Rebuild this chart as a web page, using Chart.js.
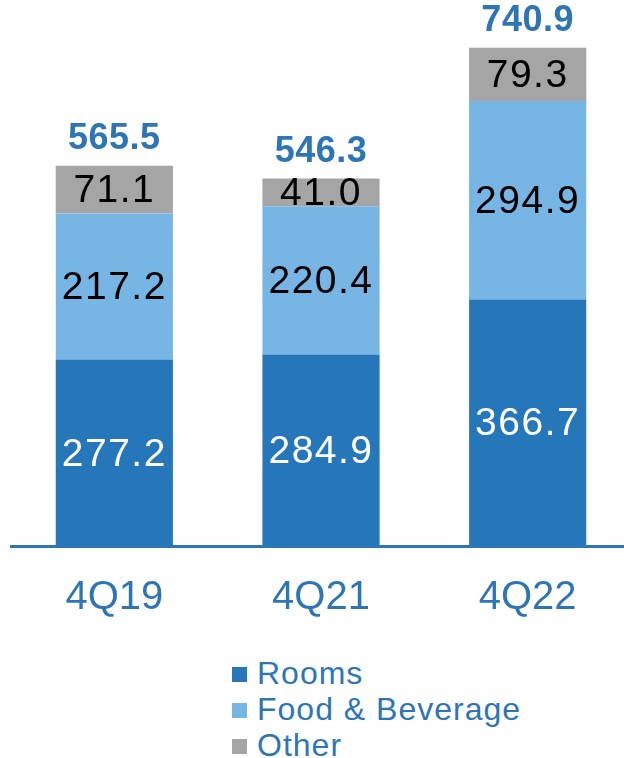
<!DOCTYPE html>
<html>
<head>
<meta charset="utf-8">
<script src="https://cdn.jsdelivr.net/npm/chart.js@4.4.0/dist/chart.umd.min.js"></script>
<style>
  body { margin: 0; background: #fff; overflow: hidden; font-family: "Liberation Sans", Arial, sans-serif; }
  #wrap { position: relative; width: 624px; height: 758px; overflow: hidden; }
  #legend { position: absolute; left: 232px; top: 655px; }
  .item { height: 36px; line-height: 36px; font-size: 32px; letter-spacing: 1px; color: #2E75B6; white-space: nowrap; }
  .box { display: inline-block; width: 15px; height: 15px; margin-right: 10px; vertical-align: 2px; }
</style>
</head>
<body>
<div id="wrap">
  <canvas id="myChart" width="636" height="650"></canvas>
  <div id="legend"></div>
</div>
<script>
var labels = ["4Q19", "4Q21", "4Q22"];
var rooms = [277.2, 284.9, 366.7];
var foodBev = [217.2, 220.4, 294.9];
var other = [71.1, 41.0, 79.3];
var totals = [565.5, 546.3, 740.9];

var seriesNames = ["Rooms", "Food & Beverage", "Other"];
var seriesColors = ["#2676BA", "#77B5E5", "#A5A5A5"];
var labelColors = ["#ffffff", "#000000", "#000000"];

var ctx = document.getElementById('myChart').getContext('2d');

// draws the numbers inside the segments and the totals above
var valueLabels = {
    id: 'valueLabels',
    afterDatasetsDraw: function(chart) {
        var c = chart.ctx;
        c.save();
        c.textAlign = 'center';
        c.textBaseline = 'middle';
        c.letterSpacing = '1.5px';
        chart.data.datasets.forEach(function(ds, i) {
            var meta = chart.getDatasetMeta(i);
            c.font = '39px "Liberation Sans", Arial, sans-serif';
            c.fillStyle = labelColors[i];
            meta.data.forEach(function(bar, j) {
                c.fillText(ds.data[j].toFixed(1), bar.x, (bar.y + bar.base) / 2 + 2);
            });
        });
        c.letterSpacing = '0.5px';
        var topMeta = chart.getDatasetMeta(chart.data.datasets.length - 1);
        c.font = 'bold 36px "Liberation Sans", Arial, sans-serif';
        c.fillStyle = '#2E75B6';
        c.textBaseline = 'bottom';
        topMeta.data.forEach(function(bar, j) {
            c.fillText(totals[j].toFixed(1), bar.x, bar.y - 9);
        });
        c.restore();
    }
};

var chart = new Chart(ctx, {
    type: 'bar',
    data: {
        labels: labels,
        datasets: [
            { label: seriesNames[0], data: rooms, backgroundColor: seriesColors[0] },
            { label: seriesNames[1], data: foodBev, backgroundColor: seriesColors[1] },
            { label: seriesNames[2], data: other, backgroundColor: seriesColors[2] }
        ]
    },
    options: {
        responsive: false,
        animation: false,
        layout: { padding: { left: 11, right: 5, top: 8, bottom: 0 } },
        datasets: { bar: { barPercentage: 0.567, categoryPercentage: 1.0 } },
        plugins: { legend: { display: false }, tooltip: { enabled: false } },
        scales: {
            x: {
                stacked: true,
                z: 1,
                grid: { display: false, drawTicks: false },
                border: { display: true, color: '#2E75B6', width: 3 },
                ticks: {
                    color: '#2E75B6',
                    padding: 28,
                    font: { family: '"Liberation Sans", Arial, sans-serif', size: 40 }
                }
            },
            y: {
                stacked: true,
                display: false,
                min: 0,
                max: 800
            }
        }
    },
    plugins: [valueLabels]
});

// legend as a vertical list below the chart
var legend = document.getElementById('legend');
seriesNames.forEach(function(name, i) {
    var row = document.createElement('div');
    row.className = 'item';
    var box = document.createElement('span');
    box.className = 'box';
    box.style.background = seriesColors[i];
    row.appendChild(box);
    row.appendChild(document.createTextNode(name));
    legend.appendChild(row);
});
</script>
</body>
</html>
